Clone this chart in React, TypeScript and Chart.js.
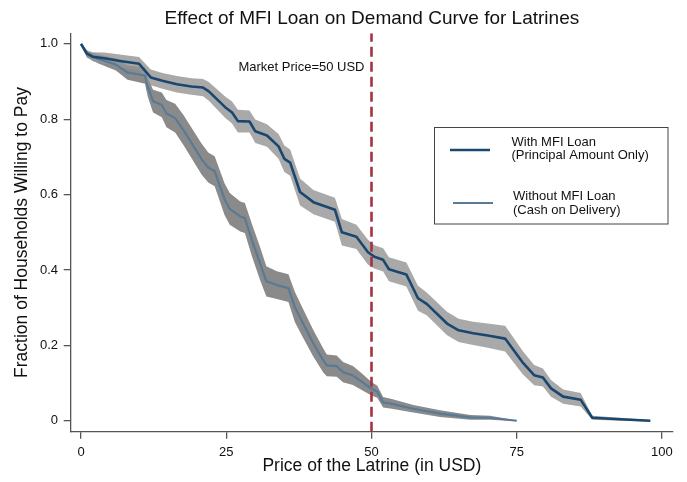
import React, { useEffect, useRef } from "react";
import { Chart, registerables } from "chart.js";

Chart.register(...registerables);

// ---- Text ----
const TITLE = "Effect of MFI Loan on Demand Curve for Latrines";
const X_TITLE = "Price of the Latrine (in USD)";
const Y_TITLE = "Fraction of Households Willing to Pay";
const MARKET_LABEL = "Market Price=50 USD";
const LEGEND_WITH = ["With MFI Loan", "(Principal Amount Only)"];
const LEGEND_WITHOUT = ["Without MFI Loan", "(Cash on Delivery)"];

// ---- Ticks ----
const X_TICKS = [0, 25, 50, 75, 100];
const Y_TICKS = [0, 0.2, 0.4, 0.6, 0.8, 1.0];
const MARKET_PRICE = 50;

// ---- With MFI loan (price, share willing to pay, CI half-width) ----
const WITH_PRICE = [0, 1, 2, 4, 7, 10, 12, 14, 16.5, 19, 21, 22, 24.8, 26, 27, 29, 30, 32, 34, 35, 36, 37.7, 40, 43.7, 44.9, 47.4, 49.4, 50.5, 52, 53, 56, 58, 59.5, 63, 65, 67.5, 70, 73, 76, 78, 79.5, 80.9, 83, 86, 88, 92.8, 98];
const WITH_SHARE = [1.0, 0.975, 0.966, 0.962, 0.954, 0.947, 0.911, 0.902, 0.893, 0.887, 0.884, 0.874, 0.832, 0.818, 0.795, 0.794, 0.768, 0.757, 0.728, 0.695, 0.685, 0.607, 0.58, 0.56, 0.5, 0.488, 0.447, 0.435, 0.427, 0.402, 0.388, 0.325, 0.31, 0.258, 0.24, 0.232, 0.226, 0.218, 0.155, 0.121, 0.115, 0.086, 0.064, 0.056, 0.008, 0.004, 0.0];
const WITH_CI = [0.0, 0.008, 0.012, 0.015, 0.017, 0.018, 0.021, 0.021, 0.022, 0.022, 0.023, 0.025, 0.028, 0.029, 0.03, 0.029, 0.031, 0.03, 0.033, 0.035, 0.035, 0.036, 0.032, 0.032, 0.035, 0.032, 0.033, 0.031, 0.031, 0.032, 0.032, 0.033, 0.03, 0.031, 0.031, 0.031, 0.032, 0.034, 0.031, 0.027, 0.024, 0.022, 0.019, 0.018, 0.005, 0.004, 0.002];

// ---- Without MFI loan ----
const WITHOUT_PRICE = [0, 1, 3, 6, 8, 10.3, 11, 11.5, 12.4, 13.9, 14.7, 16.2, 17.6, 20.8, 21.9, 23, 24.7, 25.6, 27.4, 28.2, 29.4, 30.8, 31.9, 33.7, 35.7, 36.8, 38.2, 40, 41.7, 42.3, 44, 45.1, 46.8, 48, 50, 51, 52, 53.5, 57.2, 61.8, 67, 70.4, 75];
const WITHOUT_SHARE = [1.0, 0.972, 0.96, 0.945, 0.924, 0.918, 0.916, 0.885, 0.848, 0.838, 0.815, 0.803, 0.772, 0.693, 0.672, 0.662, 0.588, 0.562, 0.542, 0.538, 0.48, 0.418, 0.37, 0.36, 0.352, 0.302, 0.259, 0.205, 0.16, 0.147, 0.145, 0.129, 0.12, 0.107, 0.085, 0.077, 0.049, 0.045, 0.032, 0.019, 0.009, 0.008, 0.0];
const WITHOUT_CI = [0.0, 0.008, 0.012, 0.016, 0.019, 0.021, 0.022, 0.026, 0.03, 0.033, 0.036, 0.038, 0.04, 0.041, 0.04, 0.04, 0.042, 0.042, 0.04, 0.04, 0.043, 0.044, 0.04, 0.037, 0.037, 0.04, 0.038, 0.035, 0.032, 0.029, 0.028, 0.027, 0.025, 0.023, 0.018, 0.016, 0.014, 0.013, 0.01, 0.009, 0.006, 0.005, 0.001];

// ---- Axis ranges ----
const X_MIN = -1.78;
const X_MAX = 101.9;
const Y_MIN = -0.029;
const Y_MAX = 1.028;

const FONT = "'Liberation Sans', Arial, Helvetica, sans-serif";
const NAVY = "#1a476f";
const STEEL = "#587a97";
const WITH_BAND = "rgba(148,148,148,0.8)";
const WITHOUT_BAND = "#8a8a8a";
const MARKET_COLOR = "#a8323f";
const AXIS_COLOR = "#555555";

function pts(xs: number[], ys: number[], off?: number[], sign = 0) {
  return xs.map((x, i) => ({ x, y: ys[i] + (off ? sign * off[i] : 0) }));
}

const annotations = {
  id: "annotations",
  afterDatasetsDraw(chart: any) {
    const { ctx, chartArea, scales } = chart;
    ctx.save();
    // title
    ctx.fillStyle = "#111";
    ctx.font = `19px ${FONT}`;
    ctx.textAlign = "center";
    ctx.textBaseline = "middle";
    ctx.fillText(TITLE, (chartArea.left + chartArea.right) / 2, 18.5);
    // market label
    ctx.font = `13px ${FONT}`;
    ctx.textAlign = "right";
    ctx.fillText(MARKET_LABEL, scales.x.getPixelForValue(MARKET_PRICE) - 7, scales.y.getPixelForValue(0.938));
    // legend
    ctx.strokeStyle = "#444";
    ctx.lineWidth = 1;
    ctx.strokeRect(434.5, 127.5, 233.5, 96.5);
    ctx.lineCap = "butt";
    ctx.lineWidth = 2.6;
    ctx.strokeStyle = NAVY;
    ctx.beginPath();
    ctx.moveTo(450, 150);
    ctx.lineTo(490, 150);
    ctx.stroke();
    ctx.lineWidth = 2.2;
    ctx.strokeStyle = STEEL;
    ctx.beginPath();
    ctx.moveTo(453, 203);
    ctx.lineTo(493, 203);
    ctx.stroke();
    ctx.fillStyle = "#111";
    ctx.textAlign = "left";
    ctx.fillText(LEGEND_WITH[0], 511.5, 142);
    ctx.fillText(LEGEND_WITH[1], 511.5, 155.5);
    ctx.fillText(LEGEND_WITHOUT[0], 513, 196);
    ctx.fillText(LEGEND_WITHOUT[1], 513, 210);
    ctx.restore();
  },
};

export default function App() {
  const ref = useRef<HTMLCanvasElement | null>(null);

  useEffect(() => {
    if (!ref.current) return;
    const tickFont = { family: FONT, size: 13 };
    const chart = new Chart(ref.current, {
      type: "line",
      data: {
        datasets: [
          {
            label: "with",
            data: pts(WITH_PRICE, WITH_SHARE),
            borderColor: NAVY,
            borderWidth: 2.6,
            pointRadius: 0,
            tension: 0,
            fill: false,
            borderJoinStyle: "round",
          },
          {
            label: "without",
            data: pts(WITHOUT_PRICE, WITHOUT_SHARE),
            borderColor: STEEL,
            borderWidth: 2.2,
            pointRadius: 0,
            tension: 0,
            fill: false,
            borderJoinStyle: "round",
          },
          {
            label: "market",
            data: [
              { x: MARKET_PRICE, y: Y_MIN },
              { x: MARKET_PRICE, y: Y_MAX },
            ],
            borderColor: MARKET_COLOR,
            borderWidth: 2.6,
            borderDash: [10, 5],
            pointRadius: 0,
            fill: false,
          },
          {
            label: "with upper",
            data: pts(WITH_PRICE, WITH_SHARE, WITH_CI, 1),
            borderWidth: 0,
            borderColor: "rgba(0,0,0,0)",
            backgroundColor: WITH_BAND,
            pointRadius: 0,
            tension: 0,
            fill: "+1",
          },
          {
            label: "with lower",
            data: pts(WITH_PRICE, WITH_SHARE, WITH_CI, -1),
            borderWidth: 0,
            borderColor: "rgba(0,0,0,0)",
            pointRadius: 0,
            tension: 0,
            fill: false,
          },
          {
            label: "without upper",
            data: pts(WITHOUT_PRICE, WITHOUT_SHARE, WITHOUT_CI, 1),
            borderWidth: 0,
            borderColor: "rgba(0,0,0,0)",
            backgroundColor: WITHOUT_BAND,
            pointRadius: 0,
            tension: 0,
            fill: "+1",
          },
          {
            label: "without lower",
            data: pts(WITHOUT_PRICE, WITHOUT_SHARE, WITHOUT_CI, -1),
            borderWidth: 0,
            borderColor: "rgba(0,0,0,0)",
            pointRadius: 0,
            tension: 0,
            fill: false,
          },
        ],
      },
      options: {
        animation: false,
        responsive: false,
        maintainAspectRatio: false,
        devicePixelRatio: 1,
        layout: { padding: { top: 33.3, right: 14, left: 0, bottom: 0 } },
        plugins: {
          legend: { display: false },
          title: { display: false },
          tooltip: { enabled: false },
        },
        scales: {
          x: {
            type: "linear",
            min: X_MIN,
            max: X_MAX,
            afterBuildTicks: (s: any) => {
              s.ticks = X_TICKS.map((v) => ({ value: v }));
            },
            afterFit: (s: any) => {
              s.height = 50.3;
            },
            ticks: {
              font: tickFont,
              color: "#111",
              padding: 6,
              maxRotation: 0,
              autoSkip: false,
              callback: (v: any) => String(v),
            },
            grid: {
              display: true,
              drawOnChartArea: false,
              drawTicks: true,
              tickLength: 7,
              color: AXIS_COLOR,
              lineWidth: 1.3,
            },
            border: { display: true, color: AXIS_COLOR, width: 1.3 },
            title: {
              display: true,
              text: X_TITLE,
              color: "#111",
              font: { family: FONT, size: 17.5 },
              padding: { top: 0, bottom: 5.5 },
            },
          },
          y: {
            type: "linear",
            min: Y_MIN,
            max: Y_MAX,
            afterBuildTicks: (s: any) => {
              s.ticks = Y_TICKS.map((v) => ({ value: v }));
            },
            afterFit: (s: any) => {
              s.width = 70.7;
            },
            ticks: {
              font: tickFont,
              color: "#111",
              padding: 5.7,
              autoSkip: false,
              callback: (v: any) => (v === 0 ? "0" : Number(v).toFixed(1)),
            },
            grid: {
              display: true,
              drawOnChartArea: false,
              drawTicks: true,
              tickLength: 7,
              color: AXIS_COLOR,
              lineWidth: 1.3,
            },
            border: { display: true, color: AXIS_COLOR, width: 1.3 },
            title: {
              display: true,
              text: Y_TITLE,
              color: "#111",
              font: { family: FONT, size: 17.5 },
              padding: { top: 11.5, bottom: 0 },
            },
          },
        },
      },
      plugins: [annotations],
    } as any);
    return () => chart.destroy();
  }, []);

  return (
    <div style={{ position: "absolute", left: 0, top: 0, width: 687, height: 482, background: "#fff" }}>
      <canvas ref={ref} width={687} height={482} style={{ display: "block" }} />
    </div>
  );
}
